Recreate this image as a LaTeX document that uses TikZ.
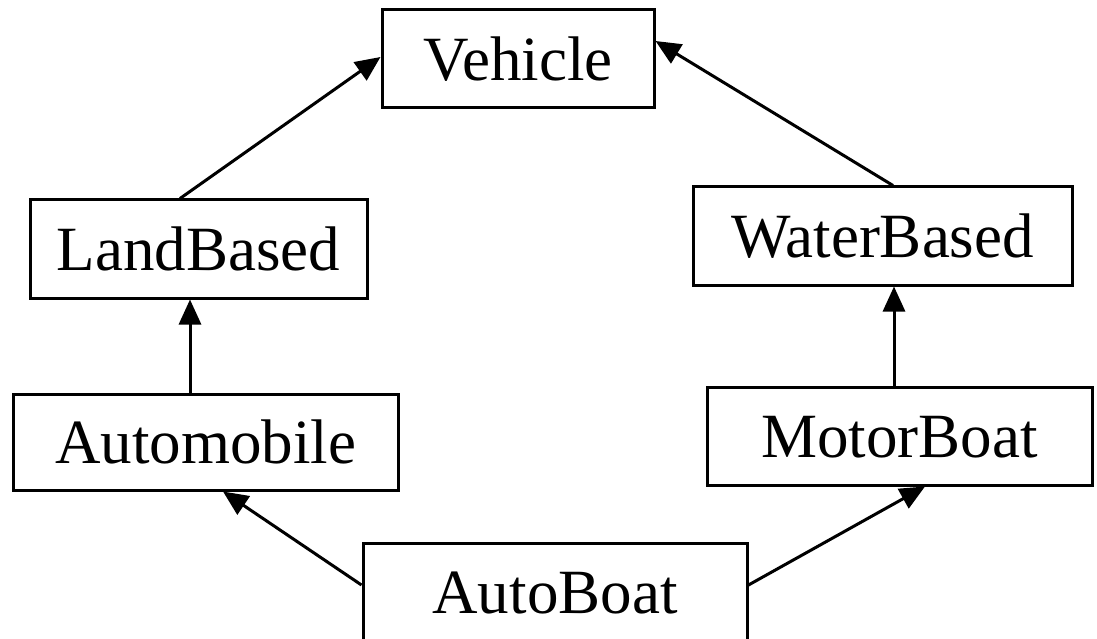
\documentclass[tikz,border=0pt]{standalone}
\usepackage{fontspec}
\setmainfont{Liberation Serif}
\usetikzlibrary{arrows.meta}
\begin{document}
\begin{tikzpicture}[x=1pt,y=-1pt,
  cls/.style={draw=black, line width=3pt, fill=white, inner sep=0pt,
    font=\fontsize{63}{75}\selectfont, text height=43pt, text depth=0pt,
    minimum height=98pt},
  arr/.style={line width=3pt, -{Triangle[length=25pt,width=22pt]}, shorten >=0pt}]
\useasboundingbox (0,0) rectangle (1097,639);
\clip (0,0) rectangle (1097,639);
\node[cls, minimum width=272pt] (vehicle) at (518,59) {Vehicle};
\node[cls, minimum width=337pt] (land) at (198.5,249) {LandBased};
\node[cls, minimum width=379pt] (water) at (882.5,236) {WaterBased};
\node[cls, minimum width=385pt, minimum height=96pt] (auto) at (205.5,442) {Automobile};
\node[cls, minimum width=385pt] (motor) at (899.5,436) {MotorBoat};
\node[cls, minimum width=384pt] (autoboat) at (555,592) {AutoBoat};
\draw[arr] ([xshift=-18.5pt]land.north) -- ([yshift=2pt]vehicle.west);
\draw[arr] ([xshift=10.5pt]water.north) -- ([yshift=18pt]vehicle.east);
\draw[arr] ([xshift=-15.5pt]auto.north) -- ([xshift=-8.5pt]land.south);
\draw[arr] ([xshift=-5.5pt]motor.north) -- ([xshift=11.5pt]water.south);
\draw[arr] ([yshift=7pt]autoboat.west) -- ([xshift=17.5pt]auto.south);
\draw[arr] ([yshift=7pt]autoboat.east) -- ([xshift=25.5pt]motor.south);
\end{tikzpicture}
\end{document}
